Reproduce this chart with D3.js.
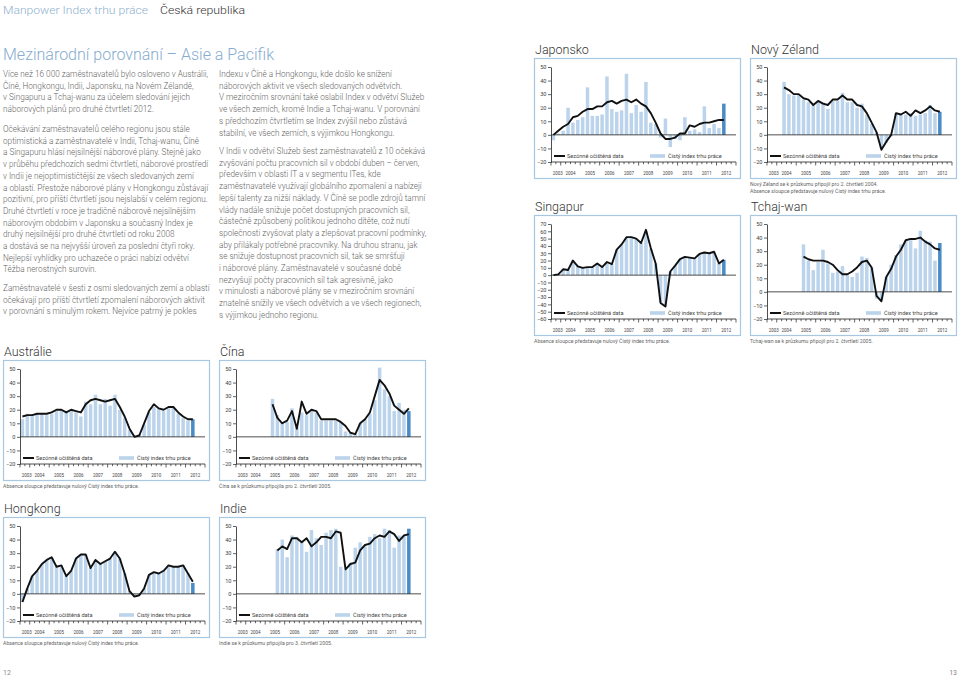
<!DOCTYPE html>
<html><head><meta charset="utf-8">
<script src="https://cdn.jsdelivr.net/npm/d3@7"></script>
<style>body{margin:0;background:#fff}svg{display:block}</style>
</head><body>
<script>
// ---------- DATA ----------
const quarterKeys = ["2003Q3","2003Q4","2004Q1","2004Q2","2004Q3","2004Q4","2005Q1","2005Q2","2005Q3","2005Q4",
  "2006Q1","2006Q2","2006Q3","2006Q4","2007Q1","2007Q2","2007Q3","2007Q4","2008Q1","2008Q2","2008Q3","2008Q4",
  "2009Q1","2009Q2","2009Q3","2009Q4","2010Q1","2010Q2","2010Q3","2010Q4","2011Q1","2011Q2","2011Q3","2011Q4",
  "2012Q1","2012Q2","2012Q3","2012Q4"];
const yearLabels = ["2003","2004","2005","2006","2007","2008","2009","2010","2011","2012"];
const ticksStd = [-20,-10,0,10,20,30,40,50];
const ticksSing = [-60,-50,-40,-30,-20,-10,0,10,20,30,40,50,60,70];
const legendLine = "Sezónně očištěná data";
const legendBar = "Čistý index trhu práce";
const N = null;

const japanBars = [-4,1,3,20,9,11,13,35,14,14,15,43,19,17,18,45,16,22,17,39,9,8,-2,12,-9,-3,-4,13,3,4,2,21,5,8,5,23];
const japanLine = [0,3,6,8,13,14,17,19,19,21,21,24,25,23,25,26,24,26,23,21,16,9,1,-3,-3,-2,1,1,7,6,8,9,9,10,11,11];

const nzBars = [N,N,N,39,30,29,30,26,24,22,25,24,19,25,25,31,24,24,20,23,15,8,2,-10,-6,-1,16,15,15,16,14,15,16,22,16,17];
const nzLine = [N,N,N,35,33,30,30,27,26,22,25,23,22,26,26,29,26,26,22,21,16,9,2,-11,-5,0,16,15,17,14,18,16,18,21,18,17];

const singBars = [1,2,9,7,20,12,10,11,11,16,11,18,15,35,42,52,52,50,44,60,36,16,-37,-43,5,13,22,25,24,23,29,31,30,31,16,21];
const singLine = [0,1,8,7,20,12,10,11,11,16,11,18,15,35,42,52,52,50,44,62,37,16,-38,-43,5,13,22,25,24,23,29,31,30,32,16,21];

const twBars = [N,N,N,N,N,N,N,35,23,16,22,31,21,14,15,19,13,11,14,26,25,18,-5,-6,11,20,27,35,38,38,32,45,38,37,23,36];
const twLine = [N,N,N,N,N,N,N,26,24,23,23,23,22,20,16,13,13,15,18,22,23,18,-3,-7,11,17,26,31,38,39,39,40,37,35,32,31];

const ausBars = [13,17,16,17,17,16,17,19,20,19,19,18,15,26,24,31,24,28,23,31,20,14,5,0,2,9,18,22,21,19,21,22,17,14,12,13];
const ausLine = [15,16,16,17,17,17,18,20,20,18,20,19,18,24,27,28,27,26,27,28,22,15,6,0,1,10,19,24,21,20,22,22,18,15,13,13];

const chinaBars = [N,N,N,N,N,N,N,28,16,11,11,21,7,18,16,19,18,12,12,12,12,11,4,3,2,10,13,17,27,51,35,30,19,25,20,19];
const chinaLine = [N,N,N,N,N,N,N,24,14,10,12,19,6,26,17,20,19,13,13,13,13,11,8,3,2,10,13,18,30,42,38,32,23,20,17,21];

const hkBars = [-6,4,13,17,22,25,27,20,21,13,17,26,29,29,19,25,22,24,26,31,26,15,2,-2,-1,4,14,16,15,17,21,20,20,21,15,8];
const hkLine = [-6,4,13,17,22,25,27,20,21,13,17,26,29,29,19,25,22,24,26,31,26,15,2,-2,-1,4,14,16,15,17,21,20,20,21,15,9];

const indiaBars = [N,N,N,N,N,N,N,N,33,40,27,43,42,39,31,47,41,36,45,47,48,20,18,23,34,38,35,42,44,41,48,47,34,43,42,48];
const indiaLine = [N,N,N,N,N,N,N,N,32,35,33,41,41,38,41,35,38,42,42,41,46,45,18,22,23,32,36,37,41,43,42,46,44,39,43,44];

const col1Lines = [
 ["Více než 16 000 zaměstnavatelů bylo osloveno v Austrálii,","Číně, Hongkongu, Indii, Japonsku, na Novém Zélandě,","v Singapuru a Tchaj-wanu za účelem sledování jejich","náborových plánů pro druhé čtvrtletí 2012."],
 ["Očekávání zaměstnavatelů celého regionu jsou stále","optimistická a zaměstnavatelé v Indii, Tchaj-wanu, Číně","a Singapuru hlásí nejsilnější náborové plány. Stejně jako","v průběhu předchozích sedmi čtvrtletí, náborové prostředí","v Indii je nejoptimističtější ze všech sledovaných zemí","a oblastí. Přestože náborové plány v Hongkongu zůstávají","pozitivní, pro příští čtvrtletí jsou nejslabší v celém regionu.","Druhé čtvrtletí v roce je tradičně náborově nejsilnějším","náborovým obdobím v Japonsku a současný Index je","druhý nejsilnější pro druhé čtvrtletí od roku 2008","a dostává se na nejvyšší úroveň za poslední čtyři roky.","Nejlepší vyhlídky pro uchazeče o práci nabízí odvětví","Těžba nerostných surovin."],
 ["Zaměstnavatelé v šesti z osmi sledovaných zemí a oblastí","očekávají pro příští čtvrtletí zpomalení náborových aktivit","v porovnání s minulým rokem. Nejvíce patrný je pokles"]
];
const col2Lines = [
 ["Indexu v Číně a Hongkongu, kde došlo ke snížení","náborových aktivit ve všech sledovaných odvětvích.","V meziročním srovnání také oslabil Index v odvětví Služeb","ve všech zemích, kromě Indie a Tchaj-wanu. V porovnání","s předchozím čtvrtletím se Index zvýšil nebo zůstává","stabilní, ve všech zemích, s výjimkou Hongkongu."],
 ["V Indii v odvětví Služeb šest zaměstnavatelů z 10 očekává","zvyšování počtu pracovních sil v období duben – červen,","především v oblasti IT a v segmentu ITes, kde","zaměstnavatelé využívají globálního zpomalení a nabízejí","lepší talenty za nižší náklady. V Číně se podle zdrojů tamní","vlády nadále snižuje počet dostupných pracovních sil,","částečně způsobený politikou jednoho dítěte, což nutí","společnosti zvyšovat platy a zlepšovat pracovní podmínky,","aby přilákaly potřebné pracovníky. Na druhou stranu, jak","se snižuje dostupnost pracovních sil, tak se smršťují","i náborové plány. Zaměstnavatelé v současné době","nezvyšují počty pracovních sil tak agresivně, jako","v minulosti a náborové plány se v meziročním srovnání","znatelně snížily ve všech odvětvích a ve všech regionech,","s výjimkou jednoho regionu."]
];
const noteZero = "Absence sloupce představuje nulový Čistý index trhu práce.";

// ---------- STYLE ----------
const FONT = "Roboto, 'Liberation Sans', Arial, sans-serif";
const light = "#bcd4eb", dark = "#4a8bc6", border = "#a8c8e2";

const svg = d3.select("body").append("svg").attr("width",960).attr("height",677)
  .style("font-family",FONT);

// header
svg.append("text").attr("x",3).attr("y",14).attr("font-size",11.5).attr("font-weight",300)
  .attr("fill","#8fb0cf").attr("textLength",145).attr("lengthAdjust","spacingAndGlyphs").text("Manpower Index trhu práce");
svg.append("text").attr("x",160).attr("y",14).attr("font-size",11.5).attr("font-weight",300)
  .attr("fill","#333").attr("textLength",85).attr("lengthAdjust","spacingAndGlyphs").text("Česká republika");
svg.append("text").attr("x",3).attr("y",60).attr("font-size",17).attr("font-weight",300)
  .attr("fill","#86acd0").attr("textLength",271).attr("lengthAdjust","spacingAndGlyphs")
  .text("Mezinárodní porovnání – Asie a Pacifik");

function para(lines, x, starts){
  lines.forEach((p,pi)=>{
    p.forEach((l,li)=>{
      svg.append("text").attr("x",x).attr("y",starts[pi]+li*11.7)
        .attr("font-size",8.2).attr("fill","#666").attr("font-weight",300).text(l);
    });
  });
}
para(col1Lines,3,[77,132,291]);
para(col2Lines,219,[77,154]);

// page numbers
svg.append("text").attr("x",3).attr("y",675).attr("font-size",7).attr("fill","#888").text("12");
svg.append("text").attr("x",957).attr("y",675).attr("text-anchor","end").attr("font-size",7).attr("fill","#888").text("13");

// ---------- CHARTS ----------
function chart(c){
  const g = svg.append("g");
  const W = 206, H = 120;
  g.append("text").attr("x",c.x+1).attr("y",c.y-4).attr("font-size",12.5).attr("font-weight",300)
    .attr("fill","#333").text(c.title);
  g.append("rect").attr("x",c.x+0.5).attr("y",c.y+0.5).attr("width",W).attr("height",H)
    .attr("fill","none").attr("stroke",border).attr("stroke-width",1.2);
  const x0 = c.x+17, x1 = c.x+202;
  const x = d3.scaleBand().domain(quarterKeys).range([x0,x1]).paddingInner(0.28).paddingOuter(0.14);
  const y = d3.scaleLinear().domain([c.ticks[0], c.ticks[c.ticks.length-1]]).range([c.y+104, c.y+9]);
  const cx = q => x(q)+x.bandwidth()/2;

  const bd = c.bars.map((v,i)=>({q:quarterKeys[i],v,last:i===c.bars.length-1})).filter(d=>d.v!==null && d.v!==0);
  g.selectAll(null).data(bd).join("rect")
    .attr("x",d=>x(d.q)).attr("width",x.bandwidth())
    .attr("y",d=>y(Math.max(0,d.v))).attr("height",d=>Math.abs(y(d.v)-y(0)))
    .attr("fill",d=>d.last?dark:light);

  // zero line
  g.append("line").attr("x1",x0).attr("x2",x1).attr("y1",y(0)).attr("y2",y(0)).attr("stroke","#222").attr("stroke-width",0.8);

  // x axis bottom
  const yb = y(c.ticks[0]);
  g.append("line").attr("x1",x0).attr("x2",x1).attr("y1",yb).attr("y2",yb).attr("stroke","#222").attr("stroke-width",0.8);
  const step = x.step();
  quarterKeys.forEach((q,i)=>{
    const bx = cx(q) - step/2;
    const major = q.endsWith("Q1") || i===0;
    g.append("line").attr("x1",bx).attr("x2",bx).attr("y1",yb).attr("y2",yb+(major?3.5:2.2))
      .attr("stroke","#222").attr("stroke-width",0.7);
  });
  g.append("line").attr("x1",x1).attr("x2",x1).attr("y1",yb).attr("y2",yb+3.5).attr("stroke","#222").attr("stroke-width",0.7);
  yearLabels.forEach(yr=>{
    const qs = quarterKeys.filter(q=>q.startsWith(yr));
    const m = d3.mean(qs, q=>cx(q)) + (yr==="2003"?2:0);
    g.append("text").attr("x",m-5).attr("y",c.y+116.5)
      .attr("font-size",5.8).attr("fill","#444").attr("textLength",10).attr("lengthAdjust","spacingAndGlyphs").text(yr);
  });

  // y axis
  const ya = g.append("g").attr("transform",`translate(${x0},0)`)
    .call(d3.axisLeft(y).tickValues(c.ticks).tickSize(3).tickSizeOuter(0).tickFormat(d3.format("d")));
  ya.select(".domain").attr("stroke","#222").attr("stroke-width",0.8);
  ya.selectAll(".tick line").attr("stroke","#222").attr("stroke-width",0.7);
  ya.selectAll(".tick text").attr("font-size",5.6).attr("fill","#444").attr("font-family",FONT).attr("x",-4.5);

  // line
  const ld = c.line.map((v,i)=>({q:quarterKeys[i],v}));
  g.append("path").datum(ld)
    .attr("d", d3.line().defined(d=>d.v!==null).x(d=>cx(d.q)).y(d=>y(d.v)))
    .attr("fill","none").attr("stroke","#111").attr("stroke-width",1.9).attr("stroke-linejoin","round");

  // legend
  const ly = c.y+98;
  g.append("line").attr("x1",x0+3).attr("x2",x0+14).attr("y1",ly).attr("y2",ly).attr("stroke","#111").attr("stroke-width",2);
  g.append("text").attr("x",x0+16).attr("y",ly+2).attr("font-size",5.6).attr("fill","#444").text(legendLine);
  g.append("rect").attr("x",x0+99).attr("y",ly-1.8).attr("width",15).attr("height",3.6).attr("fill",light);
  g.append("text").attr("x",x0+117).attr("y",ly+2).attr("font-size",5.6).attr("fill","#444").text(legendBar);

  // notes
  (c.notes||[]).forEach((n,i)=>{
    g.append("text").attr("x",c.x).attr("y",c.y+H+8+i*7).attr("font-size",5.2).attr("fill","#666").text(n);
  });
}

chart({title:"Japonsko", x:534, y:58, bars:japanBars, line:japanLine, ticks:ticksStd});
chart({title:"Nový Zéland", x:750, y:58, bars:nzBars, line:nzLine, ticks:ticksStd,
  notes:["Nový Zéland se k průzkumu připojil pro 2. čtvrtletí 2004.", noteZero]});
chart({title:"Singapur", x:534, y:215, bars:singBars, line:singLine, ticks:ticksSing, notes:[noteZero]});
chart({title:"Tchaj-wan", x:750, y:215, bars:twBars, line:twLine, ticks:ticksStd,
  notes:["Tchaj-wan se k průzkumu připojil pro 2. čtvrtletí 2005."]});
chart({title:"Austrálie", x:3, y:360, bars:ausBars, line:ausLine, ticks:ticksStd, notes:[noteZero]});
chart({title:"Čína", x:219, y:360, bars:chinaBars, line:chinaLine, ticks:ticksStd,
  notes:["Čína se k průzkumu připojila pro 2. čtvrtletí 2005."]});
chart({title:"Hongkong", x:3, y:517, bars:hkBars, line:hkLine, ticks:ticksStd, notes:[noteZero]});
chart({title:"Indie", x:219, y:517, bars:indiaBars, line:indiaLine, ticks:ticksStd,
  notes:["Indie se k průzkumu připojila pro 3. čtvrtletí 2005."]});
</script>
</body></html>
